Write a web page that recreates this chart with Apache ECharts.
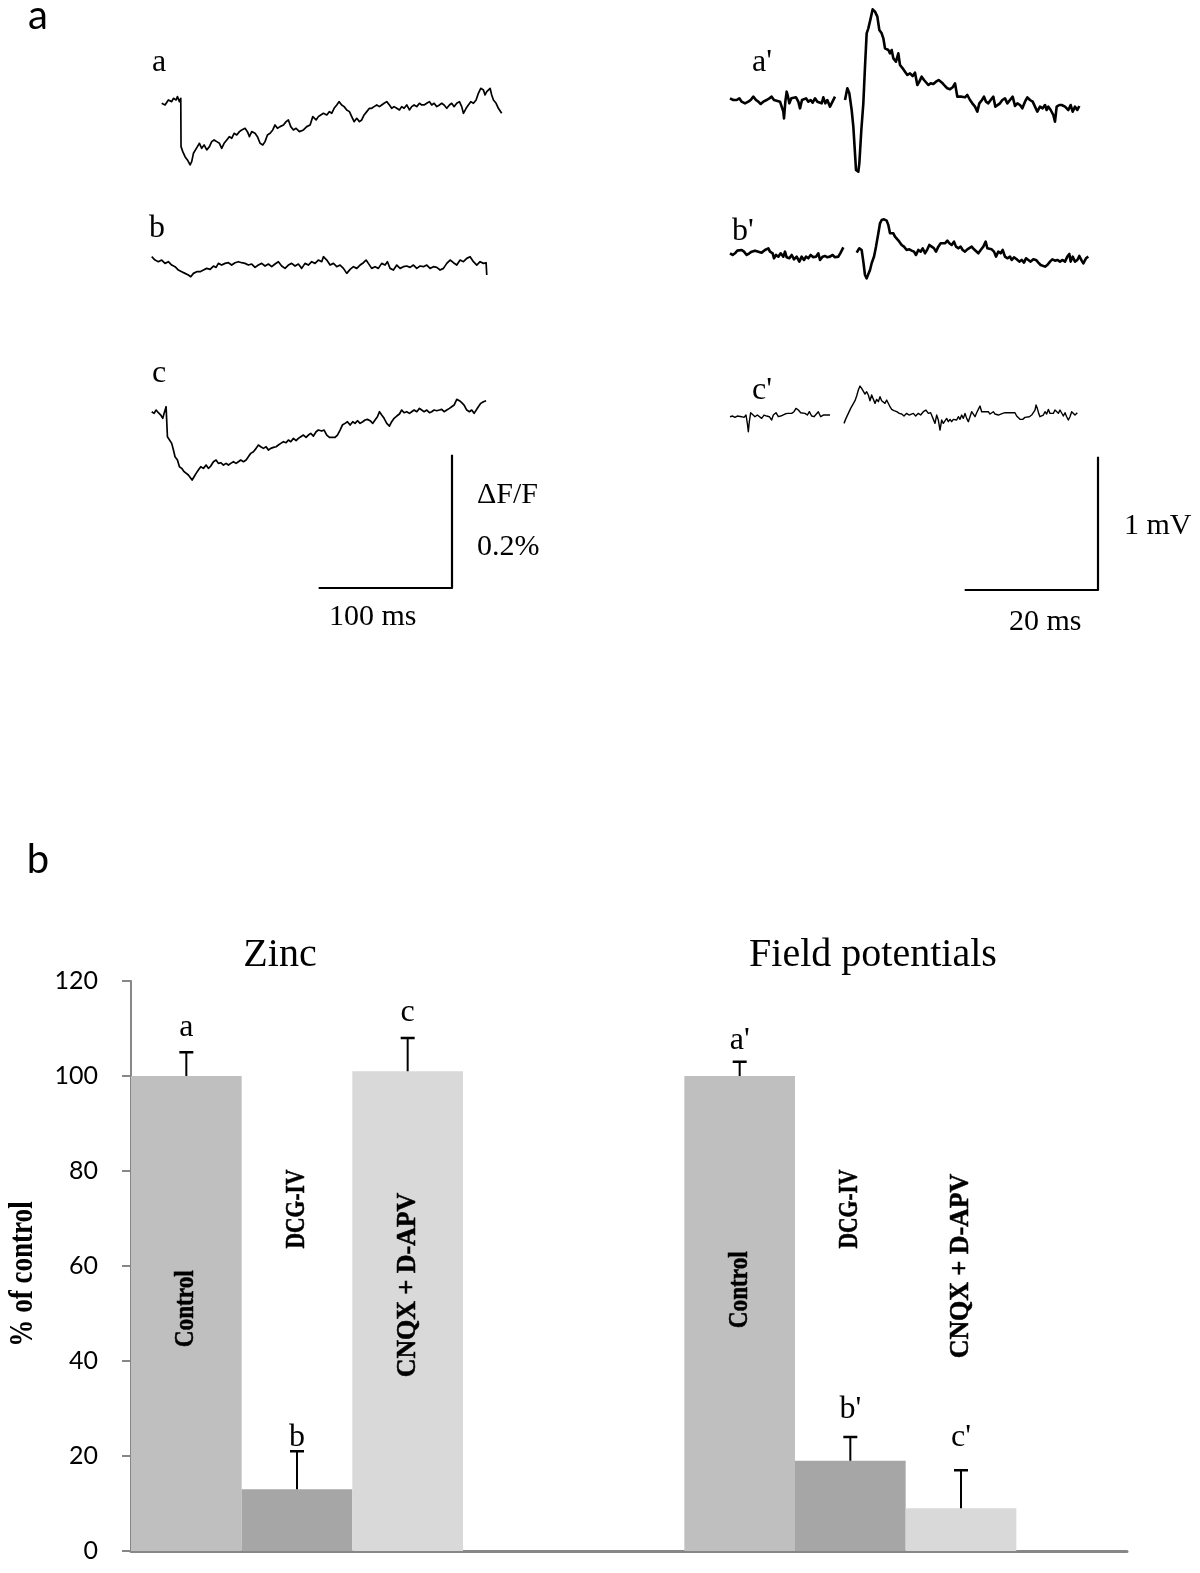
<!DOCTYPE html>
<html><head><meta charset="utf-8">
<script src="https://cdn.jsdelivr.net/npm/echarts@6/dist/echarts.min.js"></script>
<style>html,body{margin:0;padding:0;background:#fff}#c{width:1200px;height:1573px}</style>
</head><body><div id="c"></div>
<script>
// ---------------- DATA ----------------
// Panel a, left column: zinc fluorescence traces. [time (ms), dF/F in units of 0.001 %]
const zincTraceA = [[0,0],[2.5,-2.5],[5,5],[7.5,2.5],[8.8,7.5],[10.8,5],[11.8,10],[13.3,2.5],[14.3,7.5],[14.5,-65],[15.8,-72.5],[17.5,-80],[19.3,-85],[21.3,-92.5],[22.5,-87.5],[23.8,-75],[25,-77.5],[26.8,-65],[28.3,-60],[30,-67.5],[31.8,-62.5],[33.8,-70],[35.8,-65],[37.5,-57.5],[39.3,-55],[41.3,-57.5],[43.3,-60],[45,-67.5],[46.8,-60],[48.8,-55],[50.8,-50],[52.5,-52.5],[54.3,-45],[56.3,-47.5],[58.3,-42.5],[60,-40],[62.5,-37.5],[64.3,-42.5],[65.8,-50],[67.5,-42.5],[70,-45],[71.8,-50],[73.8,-60],[75.8,-62.5],[77.5,-57.5],[79.3,-47.5],[81.3,-45],[83.3,-40],[85,-32.5],[86.8,-37.5],[88.8,-35],[91.3,-32.5],[93.3,-27.5],[95,-25],[96.8,-35],[98.8,-40],[100.8,-37.5],[103.3,-42.5],[106.3,-40],[108.8,-35],[111.3,-32.5],[113.3,-20],[115.8,-25],[117.5,-20],[119.3,-17.5],[121.3,-15],[123.8,-17.5],[125.8,-12.5],[127.5,-15],[129.3,-7.5],[131.3,-2.5],[133,2.5],[135,-2.5],[136.8,-5],[138.8,-10],[140.8,-12.5],[142.5,-20],[144.3,-27.5],[146.3,-22.5],[148.3,-27.5],[150,-25],[151.8,-17.5],[153.8,-12.5],[155.8,-7.5],[157.5,-7.5],[159.3,-5],[161.3,-2.5],[163.3,-5],[165,-2.5],[166.8,0],[168.8,2.5],[170.8,-2.5],[172.5,-7.5],[174.3,-5],[176.3,-7.5],[178.3,-10],[180,-5],[181.8,-7.5],[183.8,-2.5],[185.8,-10],[187.5,-5],[189.3,-2.5],[191.3,-5],[193.3,0],[195,-2.5],[196.8,-2.5],[198.8,0],[200.8,2.5],[202.5,-2.5],[204.3,0],[206.3,-5],[208.3,-2.5],[210,0],[211.8,-2.5],[213.8,-7.5],[215.8,-2.5],[217.5,0],[219.3,-5],[221.3,0],[223.3,2.5],[225,-5],[226.3,-15],[228.3,-7.5],[230,-2.5],[231.8,2.5],[233.8,0],[235.8,5],[237.5,15],[239.3,22.5],[241.3,20],[242.5,12.5],[243.8,17.5],[245,15],[246.3,22.5],[247.5,12.5],[248.8,5],[250.8,0],[252.5,-7.5],[255,-15]];
const zincTraceB = [[0,0],[2.5,-5],[5,-7.5],[7.5,-5],[10,-10],[12.5,-7.5],[15,-12.5],[17.5,-15],[20,-20],[22.5,-22.5],[25,-25],[27.5,-27.5],[29.3,-30],[31.3,-25],[33.8,-22.5],[36.3,-22.5],[38.8,-20],[41.3,-17.5],[43.8,-19],[46.3,-14],[48.3,-16],[50,-10],[52.5,-12.5],[55,-10],[57.5,-9],[60,-12.5],[62.5,-9],[65,-7.5],[67.5,-9],[70,-10],[72.5,-12.5],[75,-11],[77.5,-16],[80,-12.5],[82.5,-10],[85,-14],[87.5,-11],[90,-15],[92.5,-11],[95,-7.5],[97.5,-14],[100,-17.5],[102.5,-12.5],[105,-10],[107.5,-14],[110,-11],[112.5,-17.5],[115,-10],[117.5,-12.5],[120,-7.5],[122.5,-10],[125,-5],[127.5,-7.5],[128.8,0],[131.3,-5],[133.8,-12.5],[136.3,-10],[138.8,-15],[141.3,-12.5],[143.8,-17.5],[146.3,-25],[148.8,-19],[151.3,-15],[153.8,-17.5],[156.3,-12.5],[158.8,-9],[160.8,-5],[162.5,-10],[165,-17.5],[167.5,-15],[170,-17.5],[172.5,-10],[175,-12.5],[176.8,-7.5],[178.8,-17.5],[181.3,-20],[183.8,-12.5],[186.3,-17.5],[188.8,-15],[191.3,-14],[193.8,-16],[196.3,-12.5],[198.8,-17.5],[201.3,-14],[203.8,-15],[206.3,-12.5],[208.8,-17.5],[211.3,-15],[213.8,-16],[216.3,-20],[218.8,-17.5],[221.3,-10],[223.8,-5],[226.3,-9],[228.8,-12.5],[231.3,-5],[233.8,-7.5],[236.3,-2.5],[238.8,0],[241.3,-7.5],[243.8,-12.5],[246.3,-7.5],[248.8,-10],[250.8,-9],[251.3,-27.5]];
const zincTraceC = [[0,0],[1.8,-2.5],[3.3,2.5],[5,-1.5],[6.8,-5],[8.3,-10],[9.3,-2.5],[10.8,7.5],[11.8,-37.5],[13.3,-40],[15,-47.5],[16.3,-57.5],[17.5,-67.5],[19.3,-72.5],[20.8,-82.5],[22.5,-85],[24.3,-90],[25.8,-87.5],[27.5,-95],[28.8,-97.5],[30.3,-102.5],[31.8,-97.5],[33.3,-92.5],[35,-87.5],[36.8,-82.5],[38.8,-85],[40.8,-80],[42.5,-85],[44.3,-81.5],[46.3,-75],[48.3,-72.5],[50,-77.5],[51.8,-76.5],[53.8,-80],[55.8,-77.5],[57.5,-80],[59.3,-77.5],[61.3,-75],[63.3,-77.5],[65,-75],[66.8,-72.5],[68.8,-75],[70.8,-72.5],[72.5,-67.5],[74.3,-62.5],[76.3,-60],[78.3,-55],[80,-50],[81.8,-52.5],[83.8,-55],[85.8,-52.5],[87.5,-57.5],[89.3,-55],[91.3,-53.5],[93.3,-52.5],[95,-50],[96.8,-47.5],[98.8,-45],[100.8,-46.5],[102.5,-42.5],[104.3,-45],[106.3,-40],[108.3,-43.5],[110,-40],[111.8,-37.5],[113.8,-35],[115.8,-38.5],[117.5,-35],[119.3,-32.5],[121.3,-36.5],[123.3,-30],[125,-27.5],[127.5,-29],[129.3,-27.5],[131.3,-35],[133.3,-38.5],[135,-38.5],[137.5,-38.5],[139.3,-35],[141.3,-27.5],[143,-20],[145,-17.5],[146.8,-15],[148.8,-20],[150.8,-15],[152.5,-17.5],[154.3,-13.5],[156.3,-17.5],[158.3,-15],[160,-12.5],[161.8,-11.5],[163.8,-13.5],[165.8,-17.5],[167.5,-12.5],[169.3,-7.5],[170.8,0],[172.5,-5],[174.3,-10],[176.3,-17.5],[178.3,-21.5],[180,-15],[181.8,-10],[183.8,-6.5],[185.8,-3.5],[187.5,2.5],[189.3,-1.5],[191.3,0],[193.3,-2.5],[195,0],[196.8,2.5],[198.8,0],[200.8,5],[202.5,2.5],[204.3,0],[206.3,2.5],[208.3,-1.5],[210,0],[211.8,2.5],[213.8,1.5],[215.8,2.5],[217.5,3.5],[219.3,0],[221.3,2.5],[223.3,5],[225,7.5],[226.8,10],[228.8,18.5],[230.8,16.5],[232.5,13.5],[234.3,10],[236.3,2.5],[238.3,0],[240,2.5],[241.8,-2.5],[243.3,0],[245,7.5],[246.8,12.5],[248.8,15],[250.8,16.5]];

// Panel a, right column: field potentials. [time (ms), potential (µV)], split at the stimulus artefact
const fieldTraceA_pre = [[0,12.5],[0.5,0],[1,0],[1.4,12.5],[1.75,-12.5],[2.25,-25],[2.75,-12.5],[3.1,0],[3.5,25],[3.9,0],[4.25,-12.5],[4.6,-30],[5,-12.5],[5.5,0],[5.9,12.5],[6.25,25],[6.6,0],[7,-5],[7.5,-12.5],[7.8,-25],[8,-87.5],[8.1,-137.5],[8.3,-12.5],[8.5,62.5],[8.7,25],[8.9,-25],[9.2,12.5],[9.5,25],[9.9,20],[10.25,-12.5],[10.5,-62.5],[10.8,0],[11.1,-12.5],[11.4,12.5],[11.75,-12.5],[12.1,0],[12.4,-20],[12.75,12.5],[13.1,-12.5],[13.4,0],[13.75,-25],[14,20],[14.3,-25],[14.6,0],[15,-50],[15.3,-37.5],[15.75,25]];
const fieldTraceA_post = [[17.25,0],[17.6,87.5],[17.9,50],[18.25,-75],[18.5,-200],[18.75,-400],[18.9,-525],[19.25,-537.5],[19.4,-475],[19.7,-225],[20,-25],[20.25,250],[20.5,500],[20.75,537.5],[21.1,612.5],[21.4,680],[21.75,662.5],[22.1,625],[22.4,525],[22.75,500],[23,462.5],[23.25,387.5],[23.75,375],[24,350],[24.25,375],[24.5,312.5],[24.9,287.5],[25.25,350],[25.5,262.5],[25.9,237.5],[26.25,212.5],[26.6,187.5],[27,200],[27.4,180],[27.75,205],[28.1,112.5],[28.4,137.5],[28.75,175],[29.1,150],[29.4,137.5],[29.75,112.5],[30.1,125],[30.5,120],[30.9,137.5],[31.3,150],[31.6,155],[31.9,125],[32.25,105],[32.6,87.5],[33,80],[33.4,95],[33.75,125],[34.1,25],[34.4,12.5],[34.75,25],[35.25,20],[35.6,37.5],[36,0],[36.35,-25],[36.75,-50],[37.1,-87.5],[37.4,-25],[37.8,0],[38.1,25],[38.4,-12.5],[38.75,-25],[39.1,0],[39.5,25],[39.8,-50],[40.1,-45],[40.5,-25],[40.85,0],[41.25,12.5],[41.6,-25],[42,0],[42.4,25],[42.75,-45],[43.1,-25],[43.5,-37.5],[43.85,-62.5],[44.25,-12.5],[44.6,20],[45,0],[45.4,-12.5],[45.75,-50],[46.1,-87.5],[46.5,-50],[46.9,-62.5],[47.25,-37.5],[47.5,-75],[47.75,-50],[48.1,-75],[48.5,-112.5],[48.75,-162.5],[49,-50],[49.4,-37.5],[49.75,-37.5],[50.25,-50],[50.75,-75],[51.1,-37.5],[51.4,-87.5],[51.75,-50],[52.1,-75],[52.4,-45]];
const fieldTraceB_pre = [[0,0],[0.4,-12.5],[0.75,0],[1.1,20],[1.4,5],[1.75,25],[2.1,12.5],[2.5,-12.5],[2.9,0],[3.25,12.5],[3.75,20],[4.25,12.5],[4.75,5],[5.25,25],[5.75,37.5],[6,12.5],[6.4,0],[6.6,-37.5],[6.9,-12.5],[7.25,-25],[7.6,0],[8,-25],[8.25,12.5],[8.5,-30],[8.9,-37.5],[9.25,-12.5],[9.6,-45],[10,-25],[10.4,-62.5],[10.75,-25],[11.1,-50],[11.4,-25],[11.75,-37.5],[12.1,-12.5],[12.5,-30],[12.9,-25],[13.25,0],[13.5,-50],[13.9,-25],[14.25,-20],[14.6,-30],[15,-25],[15.4,-12.5],[15.75,-30],[16.25,-25],[16.6,5],[17,45]];
const fieldTraceB_post = [[19,5],[19.4,37.5],[19.75,25],[20,-62.5],[20.25,-162.5],[20.5,-187.5],[20.75,-180],[21,-125],[21.25,-75],[21.6,-25],[21.9,50],[22.25,150],[22.5,225],[22.75,250],[23.1,255],[23.5,245],[23.75,212.5],[24,150],[24.25,137.5],[24.5,150],[24.75,125],[25,120],[25.4,87.5],[25.75,62.5],[26.1,50],[26.5,25],[26.9,30],[27.25,20],[27.6,12.5],[27.9,-12.5],[28.25,25],[28.6,12.5],[28.9,37.5],[29.25,0],[29.6,30],[29.9,62.5],[30.25,50],[30.6,37.5],[30.9,12.5],[31.25,50],[31.6,75],[31.9,62.5],[32.25,75],[32.6,95],[32.9,75],[33.25,62.5],[33.6,87.5],[33.9,50],[34.25,37.5],[34.6,50],[34.9,25],[35.25,12.5],[35.6,30],[35.9,37.5],[36.25,50],[36.6,30],[36.9,37.5],[37.25,0],[37.6,25],[38,50],[38.35,87.5],[38.6,37.5],[38.9,25],[39.25,30],[39.6,12.5],[39.9,-25],[40.25,12.5],[40.6,0],[40.9,25],[41.25,-25],[41.6,-37.5],[42,-25],[42.25,-50],[42.6,-30],[43,-45],[43.4,-62.5],[43.75,-50],[44.1,-70],[44.4,-37.5],[44.75,-50],[45.1,-62.5],[45.5,-45],[45.9,-50],[46.25,-70],[46.6,-87.5],[46.9,-100],[47.25,-100],[47.6,-87.5],[48,-62.5],[48.35,-45],[48.75,-55],[49.1,-50],[49.5,-62.5],[49.9,-50],[50.25,-62.5],[50.6,-25],[50.9,-5],[51.1,-62.5],[51.4,-25],[51.75,-62.5],[52.1,-50],[52.4,-20],[52.75,-55],[53,-75],[53.4,-37.5],[53.75,-25]];
const fieldTraceC_pre = [[0,0],[0.4,5],[0.75,-5],[1.1,5],[1.4,0],[1.75,0],[2.1,-5],[2.4,12.5],[2.6,-50],[2.75,-112.5],[2.9,-37.5],[3.1,30],[3.4,37.5],[3.75,0],[4.1,12.5],[4.4,0],[4.75,-12.5],[5.1,12.5],[5.5,5],[5.9,0],[6.25,-25],[6.5,12.5],[6.9,30],[7.25,0],[7.6,5],[7.9,12.5],[8.25,20],[8.6,25],[8.9,37.5],[9.25,25],[9.6,37.5],[9.9,62.5],[10.25,50],[10.6,30],[10.9,45],[11.25,25],[11.6,12.5],[11.9,37.5],[12.25,5],[12.6,0],[12.9,12.5],[13.25,37.5],[13.6,0],[14,12.5],[14.4,12.5],[15,12.5]];
const fieldTraceC_post = [[17.1,-50],[17.4,-12.5],[17.75,25],[18.1,62.5],[18.4,62.5],[18.75,120],[19,155],[19.25,200],[19.5,230],[19.75,212.5],[20,200],[20.25,170],[20.5,187.5],[20.75,162.5],[21,120],[21.25,162.5],[21.5,150],[21.75,100],[22,130],[22.25,112.5],[22.5,150],[22.75,120],[23,112.5],[23.25,100],[23.5,125],[23.75,112.5],[24,75],[24.25,55],[24.6,45],[25,37.5],[25.4,25],[25.75,20],[26.1,5],[26.5,25],[26.85,12.5],[27.1,0],[27.5,25],[27.85,5],[28.25,25],[28.6,12.5],[29,37.5],[29.4,50],[29.75,25],[30.1,30],[30.4,45],[30.75,-50],[31,12.5],[31.25,-25],[31.5,-100],[31.75,-25],[32,-50],[32.25,-37.5],[32.5,-12.5],[32.75,-37.5],[33,-20],[33.25,-37.5],[33.5,-20],[33.75,-5],[34,-25],[34.25,0],[34.5,-20],[34.75,12.5],[35,-12.5],[35.25,25],[35.5,-12.5],[35.75,-37.5],[36,0],[36.25,37.5],[36.5,25],[36.75,0],[37,30],[37.25,55],[37.5,80],[37.75,37.5],[38,25],[38.25,37.5],[38.5,45],[38.75,37.5],[39,20],[39.25,30],[39.5,37.5],[39.75,20],[40,5],[40.25,12.5],[40.5,0],[40.9,25],[41.25,30],[41.6,30],[42,30],[42.4,30],[42.75,30],[43,5],[43.25,0],[43.5,-20],[43.9,-20],[44.25,-5],[44.5,5],[44.9,0],[45.25,12.5],[45.5,25],[45.75,50],[45.9,87.5],[46.1,62.5],[46.3,25],[46.5,0],[46.75,-12.5],[47,12.5],[47.25,37.5],[47.5,20],[47.75,55],[48,25],[48.25,37.5],[48.5,25],[48.75,50],[49,37.5],[49.25,25],[49.5,50],[49.75,37.5],[50,5],[50.25,30],[50.5,0],[50.75,-25],[51,0],[51.25,37.5],[51.5,25],[51.75,12.5],[52.1,30]];
const traceLabels = ['a', 'b', 'c', "a'", "b'", "c'"];

// Scale bars
const zincScaleBar = { timeMs: 100, dffPercent: 0.2 };
const fieldScaleBar = { timeMs: 20, potentialMv: 1 };

// Panel b: bar chart (% of control)
const groups = ['Zinc', 'Field potentials'];
const treatments = ['Control', 'DCG-IV', 'CNQX + D-APV'];
const zincMean = [100, 13, 101];
const zincErr = [5, 8, 7];
const fieldMean = [100, 19, 9];
const fieldErr = [3, 5, 8];
const zincLetters = ['a', 'b', 'c'];
const fieldLetters = ["a'", "b'", "c'"];
const yTicks = [0, 20, 40, 60, 80, 100, 120];

// ---------------- LAYOUT / STYLE ----------------
const SERIF = '"Liberation Serif", "Times New Roman", serif';
const SANS = 'Lato, "Liberation Sans", sans-serif';
const LEFT_SX = 4 / 3, LEFT_SY = 2 / 3;      // px per ms, px per 0.001 %
const RIGHT_SX = 20 / 3, RIGHT_SY = 2 / 15;  // px per ms, px per µV
const barColors = ['#bfbfbf', '#a6a6a6', '#d9d9d9'];
const groupSlots = [[0, 1, 2], [5, 6, 7]];
const NSLOTS = 9;
const innerLabelY = [[51, 72, 56], [55, 72, 60]]; // label anchors (axis units)
const innerLabelScale = [0.86, 0.8, 0.96];         // horizontal squeeze of rotated labels
const letterLift = [[9, -2, 9], [5, 11, 17]];      // px between cap and letter box

const grids = [], xAxes = [], yAxes = [], series = [];
function addLineGrid(segments, origin, sx, sy, lw) {
  const pts = segments.flat();
  const xs = pts.map(p => p[0]), ys = pts.map(p => p[1]);
  const xmin = Math.min(...xs), xmax = Math.max(...xs), ymin = Math.min(...ys), ymax = Math.max(...ys);
  const gi = grids.length;
  grids.push({ left: origin[0] + xmin * sx, top: origin[1] - ymax * sy, width: (xmax - xmin) * sx, height: (ymax - ymin) * sy });
  xAxes.push({ gridIndex: gi, type: 'value', min: xmin, max: xmax, show: false });
  yAxes.push({ gridIndex: gi, type: 'value', min: ymin, max: ymax, show: false });
  segments.forEach(seg => series.push({
    type: 'line', xAxisIndex: gi, yAxisIndex: gi, data: seg, symbol: 'none', showSymbol: false,
    clip: false, silent: true, animation: false,
    lineStyle: { color: '#000', width: lw, join: 'round' }
  }));
}

addLineGrid([zincTraceA], [161.7, 103.3], LEFT_SX, LEFT_SY, 1.7);
addLineGrid([zincTraceB], [151.7, 256.7], LEFT_SX, LEFT_SY, 1.7);
addLineGrid([zincTraceC], [151.7, 411.7], LEFT_SX, LEFT_SY, 1.7);
addLineGrid([fieldTraceA_pre, fieldTraceA_post], [730, 100], RIGHT_SX, RIGHT_SY, 2.6);
addLineGrid([fieldTraceB_pre, fieldTraceB_post], [730, 253.3], RIGHT_SX, RIGHT_SY, 2.6);
addLineGrid([fieldTraceC_pre, fieldTraceC_post], [730, 416.7], RIGHT_SX, RIGHT_SY, 1.4);
// scale bars (same units as traces)
const dffUnits = zincScaleBar.dffPercent / 0.001;
addLineGrid([[[-zincScaleBar.timeMs, 0], [0, 0], [0, dffUnits]]], [452, 588], LEFT_SX, LEFT_SY, 2.2);
const mvUnits = fieldScaleBar.potentialMv * 1000;
addLineGrid([[[-fieldScaleBar.timeMs, 0], [0, 0], [0, mvUnits]]], [1098, 590], RIGHT_SX, RIGHT_SY, 2.2);

// bar chart grid
const bg = grids.length;
grids.push({ left: 131, top: 981, width: 996, height: 570 });
xAxes.push({
  gridIndex: bg, type: 'category', data: Array.from({ length: NSLOTS }, (_, i) => String(i)),
  axisLine: { lineStyle: { color: '#878787', width: 3 } }, axisTick: { show: false }, axisLabel: { show: false }, splitLine: { show: false }
});
yAxes.push({
  gridIndex: bg, type: 'value', min: yTicks[0], max: yTicks[yTicks.length - 1], interval: yTicks[1] - yTicks[0],
  axisLine: { show: true, lineStyle: { color: '#878787', width: 2 } },
  axisTick: { show: true, length: 9, lineStyle: { color: '#878787', width: 2 } },
  axisLabel: { fontFamily: SANS, fontSize: 25, color: '#000', margin: 33 },
  splitLine: { show: false }
});

const means = [zincMean, fieldMean], errs = [zincErr, fieldErr], letters = [zincLetters, fieldLetters];
const barData = Array(NSLOTS).fill('-');
const errData = [], errLetters = [], errLift = [], innerData = [], innerNames = [], innerScale = [];
groupSlots.forEach((slots, g) => slots.forEach((s, i) => {
  barData[s] = { value: means[g][i], itemStyle: { color: barColors[i] } };
  errData.push([s, means[g][i], errs[g][i]]);
  errLetters.push(letters[g][i]);
  errLift.push(letterLift[g][i]);
  innerData.push([s, innerLabelY[g][i]]);
  innerNames.push(treatments[i]);
  innerScale.push(innerLabelScale[i]);
}));

series.push({
  type: 'bar', xAxisIndex: bg, yAxisIndex: bg, data: barData, barCategoryGap: '0%', barWidth: '100%',
  silent: true, animation: false, z: 2
});
series.push({
  type: 'custom', xAxisIndex: bg, yAxisIndex: bg, data: errData, silent: true, animation: false, clip: false, z: 5,
  renderItem: function (params, api) {
    const x = api.value(0), m = api.value(1), e = api.value(2);
    const p0 = api.coord([x, m]), p1 = api.coord([x, m + e]);
    return {
      type: 'group', children: [
        { type: 'line', shape: { x1: p0[0], y1: p0[1], x2: p1[0], y2: p1[1] }, style: { stroke: '#000', lineWidth: 2 } },
        { type: 'line', shape: { x1: p1[0] - 7, y1: p1[1], x2: p1[0] + 7, y2: p1[1] }, style: { stroke: '#000', lineWidth: 2.5 } },
        { type: 'text', x: p1[0], y: p1[1] - errLift[params.dataIndex], style: { text: errLetters[params.dataIndex], font: '32px ' + SERIF, fill: '#000', textAlign: 'center', textVerticalAlign: 'bottom' } }
      ]
    };
  }
});
series.push({
  type: 'custom', xAxisIndex: bg, yAxisIndex: bg, data: innerData, silent: true, animation: false, clip: false, z: 6,
  renderItem: function (params, api) {
    const p = api.coord([api.value(0), api.value(1)]);
    return {
      type: 'text', x: p[0], y: p[1], rotation: Math.PI / 2, scaleX: innerScale[params.dataIndex], z2: 10,
      style: { text: innerNames[params.dataIndex], font: 'bold 27px ' + SERIF, fill: '#000', textAlign: 'center', textVerticalAlign: 'middle', stroke: '#000', lineWidth: 0.5 }
    };
  }
});

function txt(text, x, y, font, align) {
  return { type: 'text', x: x, y: y, silent: true, style: { text: text, font: font, fill: '#000', textAlign: align || 'left', textVerticalAlign: 'middle' } };
}
const yName = txt('% of control', 23, 1274, 'bold 33px ' + SERIF, 'center');
yName.rotation = Math.PI / 2;
yName.scaleX = 0.82;
const graphic = [
  txt('a', 38, 16, '40px ' + SANS, 'center'),
  txt('b', 38, 860, '40px ' + SANS, 'center'),
  txt(traceLabels[0], 152, 63, '32px ' + SERIF),
  txt(traceLabels[1], 149, 229, '32px ' + SERIF),
  txt(traceLabels[2], 152, 374, '32px ' + SERIF),
  txt(traceLabels[3], 752, 63, '32px ' + SERIF),
  txt(traceLabels[4], 732, 232, '32px ' + SERIF),
  txt(traceLabels[5], 752, 391, '32px ' + SERIF),
  txt('ΔF/F', 477, 495, '30px ' + SERIF),
  txt('0.2%', 477, 547, '30px ' + SERIF),
  txt('100 ms', 329, 617, '30px ' + SERIF),
  txt('1 mV', 1124, 526, '30px ' + SERIF),
  txt('20 ms', 1009, 622, '30px ' + SERIF),
  txt(groups[0], 280, 955, '40px ' + SERIF, 'center'),
  txt(groups[1], 873, 955, '40px ' + SERIF, 'center'),
  yName
];

const chart = echarts.init(document.getElementById('c'), null, { renderer: 'canvas' });
chart.setOption({
  animation: false, backgroundColor: '#fff',
  grid: grids, xAxis: xAxes, yAxis: yAxes, series: series, graphic: graphic
});
</script></body></html>
